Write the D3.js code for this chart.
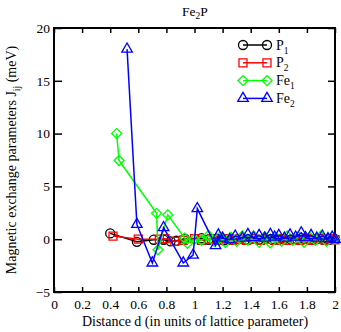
<!DOCTYPE html>
<html>
<head>
<meta charset="utf-8">
<script src="https://cdn.jsdelivr.net/npm/d3@7"></script>
<style>
  body { margin: 0; background: #fff; }
  svg text { font-family: "Liberation Serif", "DejaVu Serif", serif; fill: #000; }
</style>
</head>
<body>
<div id="chart"></div>
<script>
// chart size
let width = 341,
  height = 332;
let plotLeft = 54, plotRight = 335, plotTop = 28, plotBottom = 292;

// series: [distance, J]
let p1 = [[0.40,0.55],[0.59,-0.25],[0.71,-0.05],[0.78,-0.05],[0.83,-0.2],[0.87,-0.15],[0.93,0.05],
  [1.05,0.1],[1.10,-0.05],[1.16,0.05],[1.21,-0.1],[1.26,0.05],[1.31,0.0],[1.36,-0.05],[1.41,0.05],
  [1.46,-0.05],[1.50,0.05],[1.55,0.0],[1.60,-0.05],[1.64,0.05],[1.69,-0.05],[1.73,0.0],[1.78,0.05],
  [1.82,-0.05],[1.87,0.0],[1.91,0.05],[1.96,-0.05],[2.0,0.0]];
let p2 = [[0.42,0.3],[0.60,0.0],[0.75,0.0],[0.79,0.05],[0.86,-0.2],[0.92,-0.1],[1.0,0.05],[1.05,-0.1],
  [1.12,0.05],[1.17,-0.1],[1.22,0.05],[1.27,-0.1],[1.32,0.0],[1.37,-0.1],[1.42,0.05],[1.47,-0.1],
  [1.52,0.0],[1.57,-0.1],[1.61,0.05],[1.66,-0.1],[1.71,0.0],[1.75,-0.1],[1.80,0.05],[1.84,-0.1],
  [1.89,0.0],[1.93,-0.1],[1.97,0.05],[2.0,-0.05]];
let fe1 = [[0.446,10.0],[0.463,7.45],[0.73,2.45],[0.74,-1.0],[0.81,2.3],[0.93,0.1],[0.95,-0.4],
  [1.00,0.0],[1.05,-0.1],[1.10,0.35],[1.14,-0.2],[1.18,0.2],[1.22,-0.3],[1.26,0.2],[1.30,-0.2],
  [1.34,0.3],[1.38,-0.1],[1.42,0.3],[1.46,-0.3],[1.50,0.25],[1.54,-0.35],[1.58,0.2],[1.62,-0.2],
  [1.66,0.3],[1.70,-0.1],[1.74,0.25],[1.78,-0.3],[1.82,0.2],[1.86,-0.1],[1.90,0.3],[1.94,-0.2],
  [1.98,0.2],[2.0,0.0]];
let fe2 = [[0.52,18.0],[0.59,1.4],[0.70,-2.25],[0.78,1.1],[0.92,-2.25],[0.99,-1.5],[1.02,2.9],
  [1.15,-0.6],[1.17,0.4],[1.20,0.1],[1.25,-0.05],[1.29,0.3],[1.34,0.1],[1.38,0.45],[1.42,0.15],
  [1.46,0.35],[1.50,0.1],[1.54,0.45],[1.57,0.2],[1.60,0.35],[1.64,0.1],[1.68,0.4],[1.72,0.2],
  [1.76,0.6],[1.79,0.15],[1.83,0.35],[1.87,0.1],[1.91,0.3],[1.95,0.05],[1.98,0.2],[2.0,0.0]];

let seriesNames = ['P', 'P', 'Fe', 'Fe'];
let seriesSubs = ['1', '2', '1', '2'];
let seriesColors = ['#000000', '#ff0000', '#00ff00', '#0000ff'];
// diamond = square turned 45 degrees
let seriesSymbols = [d3.symbolCircle, d3.symbolSquare, d3.symbolSquare, d3.symbolTriangle];
let symSizes = [64, 64, 50, 48];
let symRotate = [0, 0, 45, 0];
let seriesData = [p1, p2, fe1, fe2];

let xTicks = [0, 0.2, 0.4, 0.6, 0.8, 1, 1.2, 1.4, 1.6, 1.8, 2];
let yTicks = [-5, 0, 5, 10, 15, 20];

let svg = d3.select('#chart').append('svg')
  .attr('width', width)
  .attr('height', height);

let x = d3.scaleLinear().domain([0, 2]).range([plotLeft, plotRight]);
let y = d3.scaleLinear().domain([-5, 20]).range([plotBottom, plotTop]);

// tick marks, all pointing inward
let xAxisB = d3.axisBottom(x).tickValues(xTicks).tickSize(-5).tickFormat(d3.format('~g')).tickPadding(7);
let xAxisT = d3.axisTop(x).tickValues(xTicks).tickSize(-5).tickFormat('');
let yAxisL = d3.axisLeft(y).tickValues(yTicks).tickSize(-8).tickPadding(4);
let yAxisR = d3.axisRight(y).tickValues(yTicks).tickSize(-7).tickFormat('');

function styleAxis(g) {
  g.attr('font-family', 'Liberation Serif').attr('font-size', 13.5);
  g.select('.domain').remove();
  g.selectAll('line').attr('stroke', '#000').attr('stroke-width', 1.5);
  g.selectAll('text').attr('fill', '#000');
}

svg.append('g').attr('transform', 'translate(0,' + plotBottom + ')').call(xAxisB).call(styleAxis);
svg.append('g').attr('transform', 'translate(0,' + plotTop + ')').call(xAxisT).call(styleAxis);
svg.append('g').attr('transform', 'translate(' + plotLeft + ',0)').call(yAxisL).call(styleAxis);
svg.append('g').attr('transform', 'translate(' + plotRight + ',0)').call(yAxisR).call(styleAxis);

// frame
svg.append('rect')
  .attr('x', plotLeft).attr('y', plotTop)
  .attr('width', plotRight - plotLeft).attr('height', plotBottom - plotTop)
  .attr('fill', 'none').attr('stroke', '#000').attr('stroke-width', 2);

let line = d3.line().x(d => x(d[0])).y(d => y(d[1]));

function marker(i) {
  return d3.symbol().type(seriesSymbols[i]).size(symSizes[i])();
}

seriesData.forEach(function (data, i) {
  let g = svg.append('g');
  g.append('path')
    .datum(data)
    .attr('d', line)
    .attr('fill', 'none')
    .attr('stroke', seriesColors[i])
    .attr('stroke-width', 1.5);
  g.selectAll('path.pt')
    .data(data)
    .enter()
    .append('path')
    .attr('class', 'pt')
    .attr('d', marker(i))
    .attr('transform', d => 'translate(' + x(d[0]) + ',' + y(d[1]) + ') rotate(' + symRotate[i] + ')')
    .attr('fill', 'none')
    .attr('stroke', seriesColors[i])
    .attr('stroke-width', 1.3);
});

// legend
let legend = svg.append('g');
seriesNames.forEach(function (name, i) {
  let ly = 45 + i * 17.8;
  legend.append('line')
    .attr('x1', 243).attr('x2', 267).attr('y1', ly).attr('y2', ly)
    .attr('stroke', seriesColors[i]).attr('stroke-width', 1.5);
  [243, 267].forEach(function (lx) {
    legend.append('path')
      .attr('d', marker(i))
      .attr('transform', 'translate(' + lx + ',' + ly + ') rotate(' + symRotate[i] + ')')
      .attr('fill', 'none').attr('stroke', seriesColors[i]).attr('stroke-width', 1.3);
  });
  let t = legend.append('text')
    .attr('x', 276).attr('y', ly + 4.5)
    .style('font-size', '14px');
  t.append('tspan').text(name);
  t.append('tspan').attr('dy', 4).style('font-size', '9.5px').text(seriesSubs[i]);
});

// title
let title = svg.append('text')
  .attr('x', 195).attr('y', 16)
  .attr('text-anchor', 'middle')
  .style('font-size', '13.5px');
title.append('tspan').text('Fe');
title.append('tspan').attr('dy', 3).style('font-size', '9.5px').text('2');
title.append('tspan').attr('dy', -3).text('P');

// axis titles
svg.append('text')
  .attr('x', 195).attr('y', 326)
  .attr('text-anchor', 'middle')
  .style('font-size', '14px')
  .text('Distance d (in units of lattice parameter)');

let ylab = svg.append('text')
  .attr('transform', 'translate(16,160) rotate(-90)')
  .attr('text-anchor', 'middle')
  .style('font-size', '14px');
ylab.append('tspan').text('Magnetic exchange parameters J');
ylab.append('tspan').attr('dy', 4).style('font-size', '9.5px').text('ij');
ylab.append('tspan').attr('dy', -4).text(' (meV)');
</script>
</body>
</html>
